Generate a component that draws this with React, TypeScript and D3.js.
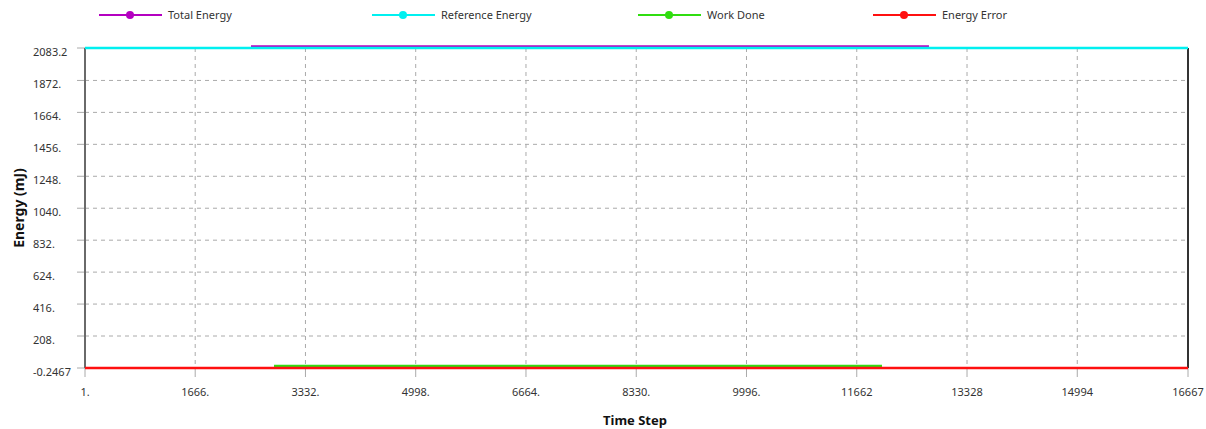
import React from "react";
import * as d3 from "d3";

const W = 1206;
const H = 429;

// X axis ticks (time steps)
const xTickValues = [1, 1666, 3332, 4998, 6664, 8330, 9996, 11662, 13328, 14994, 16667];
const xTickLabels = ["1.", "1666.", "3332.", "4998.", "6664.", "8330.", "9996.", "11662", "13328", "14994", "16667"];

// Y axis ticks (energy, mJ)
const yTickValues = [-0.2467, 208, 416, 624, 832, 1040, 1248, 1456, 1664, 1872, 2083.2];
const yTickLabels = ["-0.2467", "208.", "416.", "624.", "832.", "1040.", "1248.", "1456.", "1664.", "1872.", "2083.2"];

// Series
const totalEnergySteps = [2509, 12753];
const totalEnergyValues = [2093, 2093];
const referenceEnergySteps = [1, 16667];
const referenceEnergyValues = [2083.2, 2083.2];
const workDoneSteps = [2857, 12043];
const workDoneValues = [13, 13];
const energyErrorSteps = [1, 16667];
const energyErrorValues = [0, 0];

const seriesNames = ["Total Energy", "Reference Energy", "Work Done", "Energy Error"];
const seriesColors = ["#b400c0", "#00f0f0", "#30dd10", "#ff1010"];
const legendX = [99, 372, 638, 873];

export default function App() {
  const x = d3.scaleLinear().domain([1, 16667]).range([85, 1188]);
  const y = d3.scaleLinear().domain([-0.2467, 2083.2]).range([368, 48]);
  const line = d3
    .line<[number, number]>()
    .x((d) => x(d[0]))
    .y((d) => y(d[1]));

  const series = [
    { steps: totalEnergySteps, values: totalEnergyValues },
    { steps: referenceEnergySteps, values: referenceEnergyValues },
    { steps: workDoneSteps, values: workDoneValues },
    { steps: energyErrorSteps, values: energyErrorValues },
  ];

  const font = "'Noto Sans', 'Open Sans', sans-serif";
  const [x0, x1] = x.range();
  const [yb, yt] = y.range();

  return (
    <svg width={W} height={H} style={{ position: "absolute", left: 0, top: 0, background: "#fff" }}>
      {/* Legend */}
      {seriesNames.map((name, i) => (
        <g key={name}>
          <line x1={legendX[i]} x2={legendX[i] + 63} y1={15} y2={15} stroke={seriesColors[i]} strokeWidth={2} />
          <circle cx={legendX[i] + 31} cy={15} r={4} fill={seriesColors[i]} />
          <text x={legendX[i] + 69} y={19} fontSize={11} fill="#333" fontFamily={font}>
            {name}
          </text>
        </g>
      ))}

      {/* Grid */}
      {xTickValues.slice(1, -1).map((v) => (
        <line key={"gx" + v} x1={x(v)} x2={x(v)} y1={yt} y2={yb} stroke="#aaa" strokeDasharray="4,4" />
      ))}
      {yTickValues.slice(1, -1).map((v) => (
        <line key={"gy" + v} x1={x0} x2={x1} y1={y(v)} y2={y(v)} stroke="#aaa" strokeDasharray="4,4" />
      ))}

      {/* Y ticks */}
      {yTickValues.map((v, i) => (
        <g key={"yt" + v}>
          <line x1={x0 - 8} x2={x0} y1={y(v)} y2={y(v)} stroke="#aaa" />
          <text x={33} y={y(v) + 8} fontSize={11} fill="#333" fontFamily={font}>
            {yTickLabels[i]}
          </text>
        </g>
      ))}

      {/* X ticks */}
      {xTickValues.map((v, i) => (
        <g key={"xt" + v}>
          <line x1={x(v)} x2={x(v)} y1={yb} y2={yb + 9} stroke="#aaa" />
          <text x={x(v)} y={396} fontSize={11} fill="#333" textAnchor="middle" fontFamily={font}>
            {xTickLabels[i]}
          </text>
        </g>
      ))}

      {/* Spines */}
      <line x1={x0} x2={x0} y1={yt} y2={yb} stroke="#6a6a6a" strokeWidth={2} />
      <line x1={x1} x2={x1} y1={yt} y2={yb} stroke="#333" strokeWidth={2} />

      {/* Series */}
      {series.map((s, i) => (
        <path
          key={seriesNames[i]}
          d={line(s.steps.map((st, j) => [st, s.values[j]] as [number, number])) || ""}
          fill="none"
          stroke={seriesColors[i]}
          strokeWidth={2.5}
        />
      ))}

      {/* Axis titles */}
      <text
        transform={`translate(24, ${(yt + yb) / 2}) rotate(-90)`}
        textAnchor="middle"
        fontSize={14}
        fontWeight="bold"
        fill="#111"
        fontFamily={font}
      >
        Energy (mJ)
      </text>
      <text x={635} y={425} textAnchor="middle" fontSize={13} fontWeight="bold" fill="#111" fontFamily={font}>
        Time Step
      </text>
    </svg>
  );
}
